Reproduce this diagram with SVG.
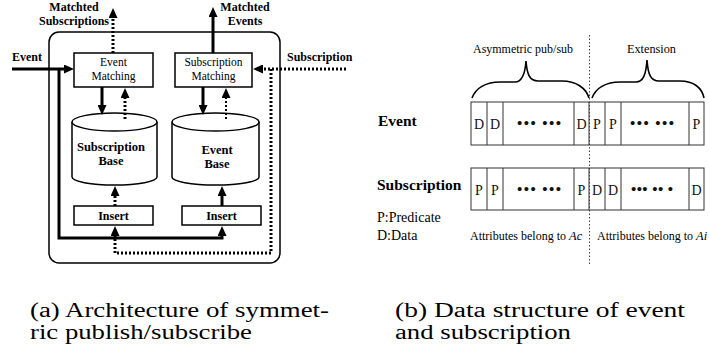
<svg xmlns="http://www.w3.org/2000/svg" width="709" height="355" viewBox="0 0 709 355">
<defs>
<marker id="ah" markerUnits="userSpaceOnUse" markerWidth="10" markerHeight="9" refX="2" refY="4.5" orient="auto">
<path d="M0,0 L10,4.5 L0,9 z" fill="#000"/>
</marker>
<style>
.b{font-family:"Liberation Serif","Times New Roman",serif;font-weight:bold;fill:#000}
.r{font-family:"Liberation Serif","Times New Roman",serif;fill:#000}
.box{fill:#fff;stroke:#000;stroke-width:1.5}
.thick{fill:none;stroke:#000;stroke-width:3}
.dot{fill:none;stroke:#000;stroke-width:3;stroke-dasharray:2 2}
.dot2{fill:none;stroke:#000;stroke-width:2;stroke-dasharray:2 2}
.cell{fill:none;stroke:#333;stroke-width:1}
.cap{font-family:"Liberation Serif","Times New Roman",serif;font-size:20px;fill:#000}
.t{font-family:"Liberation Serif","Times New Roman",serif;font-size:14px;fill:#111;text-anchor:middle}
.d{font-family:"Liberation Serif","Times New Roman",serif;font-size:15px;font-weight:bold;fill:#111;text-anchor:middle}
</style>
</defs>

<!-- Left: architecture -->
<rect id="outer" x="49" y="32" width="231" height="231" rx="10" fill="none" stroke="#000" stroke-width="1.5"/>

<g id="event-matching">
<rect class="box" x="74" y="53" width="79" height="34"/>
<text class="r" font-size="11.5" text-anchor="middle" x="113.5" y="66">Event</text>
<text class="r" font-size="11.5" text-anchor="middle" x="113.5" y="80">Matching</text>
</g>
<g id="subscription-matching">
<rect class="box" x="175" y="53" width="77" height="34"/>
<text class="r" font-size="11.5" text-anchor="middle" x="213.5" y="66">Subscription</text>
<text class="r" font-size="11.5" text-anchor="middle" x="213.5" y="80">Matching</text>
</g>
<g id="subscription-base">
<path d="M72,122 V177 A42.5,8 0 0 0 157,177 V122" fill="#fff" stroke="#000" stroke-width="1.5"/>
<ellipse cx="114.5" cy="122" rx="42.5" ry="9" fill="#fff" stroke="#000" stroke-width="1.5"/>
<text class="b" font-size="12.5" text-anchor="middle" x="111" y="151">Subscription</text>
<text class="b" font-size="12.5" text-anchor="middle" x="111" y="165">Base</text>
</g>
<g id="event-base">
<path d="M172,122 V177 A43.5,8 0 0 0 259,177 V122" fill="#fff" stroke="#000" stroke-width="1.5"/>
<ellipse cx="215.5" cy="122" rx="43.5" ry="9" fill="#fff" stroke="#000" stroke-width="1.5"/>
<text class="b" font-size="12.5" text-anchor="middle" x="217" y="154">Event</text>
<text class="b" font-size="12.5" text-anchor="middle" x="217" y="168">Base</text>
</g>
<g id="insert-left">
<rect class="box" x="74" y="206" width="79" height="19"/>
<text class="b" font-size="12" text-anchor="middle" x="113.5" y="220">Insert</text>
</g>
<g id="insert-right">
<rect class="box" x="182" y="206" width="79" height="19"/>
<text class="b" font-size="12" text-anchor="middle" x="221.5" y="220">Insert</text>
</g>

<g id="labels-left">
<text class="b" font-size="12" x="12" y="61">Event</text>
<text class="b" font-size="12" text-anchor="middle" x="74" y="11">Matchted</text>
<text class="b" font-size="12" text-anchor="middle" x="74" y="25">Subscriptions</text>
<text class="b" font-size="12" text-anchor="middle" x="245" y="11">Matchted</text>
<text class="b" font-size="12" text-anchor="middle" x="245" y="25">Events</text>
<text class="b" font-size="12" x="287" y="61">Subscription</text>
</g>

<g id="connectors">
<path class="thick" d="M12,69 H66" marker-end="url(#ah)"/>
<path class="thick" d="M59,69 V238 H222 V234" marker-end="url(#ah)"/>
<path class="thick" d="M102,87 V107" marker-end="url(#ah)"/>
<path class="dot" d="M125,119 V96" marker-end="url(#ah)"/>
<path class="dot" d="M113,53 V16" marker-end="url(#ah)"/>
<path class="thick" d="M213,53 V15" marker-end="url(#ah)"/>
<path class="dot" d="M346,69 H261" marker-end="url(#ah)"/>
<path class="dot" d="M271,69 V253 H115 V234" marker-end="url(#ah)"/>
<path class="thick" d="M203,87 V107" marker-end="url(#ah)"/>
<path class="dot2" d="M226,119 V96" marker-end="url(#ah)"/>
<path class="dot" d="M115,206 V194" marker-end="url(#ah)"/>
<path class="thick" d="M222,206 V194" marker-end="url(#ah)"/>
</g>

<!-- Right: data structure -->
<g id="divider">
<line x1="589.5" y1="35" x2="589.5" y2="265" stroke="#444" stroke-width="1" stroke-dasharray="1.5 2"/>
</g>
<g id="braces">
<path d="M472,98 C476,88 486,82 500,82 L515,82 C522,82 525,75 526,61 C527,75 530,81 538,81 L562,81 C576,81 586,88 589,98" fill="none" stroke="#000" stroke-width="1.6"/>
<path d="M592,98 C596,88 606,82 620,82 L636,82 C643,82 646,75 647,60 C648,75 651,81 659,81 L680,81 C694,81 702,88 704,98" fill="none" stroke="#000" stroke-width="1.6"/>
<text class="r" font-size="13" x="473" y="53" textLength="100" lengthAdjust="spacingAndGlyphs">Asymmetric pub/sub</text>
<text class="r" font-size="13" x="627" y="53" textLength="49" lengthAdjust="spacingAndGlyphs">Extension</text>
</g>

<g id="event-row">
<text class="b" font-size="15.5" x="378" y="126">Event</text>
<rect class="cell" x="471" y="102" width="233" height="43"/>
<path class="cell" d="M487,102V145M503,102V145M574,102V145M589,102V145M605,102V145M621,102V145M689,102V145"/>
<text class="t" x="479" y="129">D</text>
<text class="t" x="495" y="129">D</text>
<text class="d" x="539" y="128" textLength="44" lengthAdjust="spacing">••• •••</text>
<text class="t" x="581.5" y="129">D</text>
<text class="t" x="597" y="129">P</text>
<text class="t" x="613" y="129">P</text>
<text class="d" x="652" y="128" textLength="44" lengthAdjust="spacing">••• •••</text>
<text class="t" x="696.5" y="129">P</text>
</g>

<g id="subscription-row">
<text class="b" font-size="15.5" x="377" y="190">Subscription</text>
<rect class="cell" x="471" y="168" width="233" height="42"/>
<path class="cell" d="M487,168V210M503,168V210M574,168V210M589,168V210M605,168V210M621,168V210M689,168V210"/>
<text class="t" x="479" y="195">P</text>
<text class="t" x="495" y="195">P</text>
<text class="d" x="539" y="194" textLength="44" lengthAdjust="spacing">••• •••</text>
<text class="t" x="581.5" y="195">P</text>
<text class="t" x="597" y="195">D</text>
<text class="t" x="613" y="195">D</text>
<text class="d" x="652" y="194" textLength="42" lengthAdjust="spacing">••• •• •</text>
<text class="t" x="696.5" y="195">D</text>
</g>

<g id="legend">
<text class="r" font-size="14" x="377" y="222">P:Predicate</text>
<text class="r" font-size="14" x="377" y="240">D:Data</text>
<text class="r" font-size="12" x="470" y="240">Attributes belong to</text>
<text class="r" font-size="12.5" font-style="italic" x="569" y="240">Ac</text>
<text class="r" font-size="12" x="597" y="240">Attributes belong to</text>
<text class="r" font-size="12.5" font-style="italic" x="696" y="240">Ai</text>
</g>

<g id="captions">
<text class="cap" x="30" y="317" textLength="299" lengthAdjust="spacingAndGlyphs">(a) Architecture of symmet-</text>
<text class="cap" x="30" y="339" textLength="222" lengthAdjust="spacingAndGlyphs">ric publish/subscribe</text>
<text class="cap" x="395" y="317" textLength="290" lengthAdjust="spacingAndGlyphs">(b) Data structure of event</text>
<text class="cap" x="395" y="339" textLength="176" lengthAdjust="spacingAndGlyphs">and subscription</text>
</g>
</svg>
